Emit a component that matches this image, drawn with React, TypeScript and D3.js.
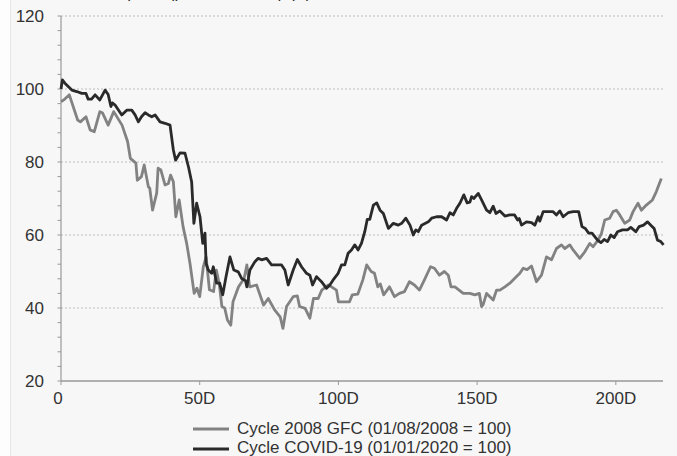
import React from "react";
import * as d3 from "d3";

const gfcDays = [0,1,3,6,7,9,10.5,12,14,15,17,19,22,24,25,27,27.5,29,30,31.5,32,33,34.5,35,36,37.5,38.7,39.5,40.5,41.4,42.6,44,45.3,46.5,48,49,50,51.3,52.3,53.5,55,56,57,58,59,60,61.2,62,64,66,67,68,70.5,73,74.7,77,79,80,81.3,83.7,85.2,86,88,89.7,91,92.7,94,96.3,97.5,99.3,100,101.7,104,105,107,108.8,110.2,111.8,113,114.2,115.1,116.3,118.4,120.2,122,123.8,125.6,127.4,129.2,131,133.2,134.6,136.4,138.2,139.6,140.6,142,145,147.4,149.2,150.8,151.6,152.2,153.4,155.8,157,158.2,160,161.8,164.2,165.4,166.6,168,169.6,171.4,173.2,175,176.8,178.6,180.4,181.6,183.4,184.6,187,188.8,190.6,191.8,193.6,194.8,196,197.8,199,200.2,201.4,203.2,205,206.2,208,209.2,211,213.2,214.6,216.4];
const gfcValues = [96.5,97,98.4,91.5,91,92.4,88.8,88.3,93.8,93.4,90.1,93.8,90.1,85.6,81,79.7,75,76,79.2,73.2,72.8,66.8,71.5,78.3,77.8,73.7,74.1,76.4,74.6,65,69.6,62.3,57.7,52.2,44,45.4,43.1,51.3,54,45,44.5,50.4,46.8,40.4,40,36.7,35.3,41.7,45.8,48.1,51.8,45.8,46.3,40.8,42.6,39.5,37.6,34.4,40.4,43.1,43.3,40.4,39.9,37.2,42.6,42.6,44.9,46.3,45.8,44.9,41.7,41.7,41.7,43.6,43.8,47.7,51.8,50,49.5,45.8,46.6,43.6,45.8,43.1,44,44.5,47.2,46.3,44.9,47.7,51.3,50.9,49,50,49,45.8,45.8,44,44,43.6,44,40.4,41,44,42.2,44.9,44.9,45.8,46.8,48.6,49.5,50.9,50.5,51.5,47.2,49,54,53.2,56.3,57.3,56.3,57.3,55.9,53.6,55.4,57.7,56.8,58.6,60.4,64.1,64.6,66.4,66.8,65.5,63.2,64.1,66.4,68.7,66.8,68.2,69.6,71.9,75.5];

const covidDays = [0,0.5,1.4,3.9,5.7,7.5,9,9.8,11,12.3,14,15.9,17,18,18.5,19.5,21.9,23.7,25.5,26.7,27.9,29,30.3,31.5,32.7,33.9,35.7,37.5,39.3,40.5,41.3,42.9,44.7,46,47.1,47.9,48.9,50.1,51.1,51.9,52.3,53.1,54.3,54.9,56.1,57.2,58.3,59.5,60.9,62.3,63.9,65.1,66.5,67,68.1,69.9,71.1,72.3,74.1,75.9,77.7,79.5,80.7,81.9,83.7,85.2,86.7,88.5,89.7,90.7,92.1,93.9,95.7,96.9,98.1,99.9,101.1,102.3,103.5,104.7,105.9,107.1,108.3,109.5,110.4,111.3,112.6,113.8,115,116.2,118,119.8,121.6,122.8,124.3,125.8,127,127.9,128.8,130,132.4,133.6,135.4,137.2,139,140.2,141.4,142.6,143.8,145.2,146.4,147.4,148,148.8,150.4,151.6,153.4,154.6,155.8,156.8,158.2,160,161.8,163.5,164.6,165.2,166,167.8,169.6,170.8,172,172.6,173.8,176.2,177.4,178.6,179.8,181,182.8,184.6,186.6,187.8,189,190.2,191.4,193.4,194.6,195.8,197,198.2,199.4,200.6,202.4,204.2,205.4,207.2,208.4,210,211.4,212.6,213.8,215,216.2,217.2];
const covidValues = [100,102.5,101.6,99.7,99.3,98.8,98.8,97.2,97.2,98.4,97,99.7,98.5,95.2,96.2,95.6,92.9,94.2,94.2,92.9,91,92.4,93.5,92.9,92.4,92.9,91,90.6,90.1,83.3,80.5,82.5,82.4,78.5,74.5,63.2,68.7,65,57.7,60.5,52.2,50.4,49.5,51.3,46.8,46.8,43.6,48.6,54,50.4,49.9,48.1,47.5,45.8,50.4,52.7,53.6,53.2,53.6,51.8,51.8,51.8,50.4,46.3,50.4,53.3,51.3,49.5,49,46.3,48.6,47.2,45.4,46.3,47.7,49.5,51.8,51.8,55,55.9,57.3,55.9,57.7,60.9,64.3,64.3,68.2,68.8,66.8,65.9,61.8,63.2,62.7,63.2,64.6,62.7,60,61.4,60.9,62.7,63.6,64.6,65,65,64.1,66.1,65.5,67.3,68.7,71,68.8,69,70.5,70,71.4,69.6,66.8,66.1,67.9,65.9,66.6,65.2,65.5,65.5,64.1,64.5,62.7,63.6,63.4,62.7,65,63.8,66.4,66.4,66.4,65.5,66.6,65,66.1,66.4,66.4,62.3,61.8,60.5,60.5,58.6,57.9,58.8,58.2,60,59.3,60.9,61.4,61.4,62.1,60.9,62.3,62.7,63.6,62.7,61.8,58.6,58.2,57.3];

const yTicks = [20, 40, 60, 80, 100, 120];
const xTicks = [0, 50, 100, 150, 200];
const xTickLabels = ["0", "50D", "100D", "150D", "200D"];
const seriesNames = ["Cycle 2008 GFC (01/08/2008 = 100)", "Cycle COVID-19 (01/01/2020 = 100)"];
const seriesColors = ["#828282", "#2a2a2a"];

const W = 677, H = 456;
const FONT = "'Liberation Sans', Arial, sans-serif";

export default function App() {
  const x = d3.scaleLinear().domain([0, 217]).range([61, 663]);
  const y = d3.scaleLinear().domain([20, 120]).range([381, 16]);
  const minor = d3.range(20, 121, 4);

  const mk = (days: number[], vals: number[]) =>
    d3.line<number>().x((_, i) => x(days[i])).y((v) => y(v))(vals) || "";

  const series = [
    { d: mk(gfcDays, gfcValues), color: seriesColors[0] },
    { d: mk(covidDays, covidValues), color: seriesColors[1] },
  ];

  return (
    <div style={{ position: "fixed", left: 0, top: 0 }}>
      <svg width={W} height={H} style={{ display: "block", fontFamily: FONT }}>
        <rect x={0} y={0} width={W} height={H} fill="#fdfdfd" />
        <rect x={10} y={0} width={W - 10} height={H} fill="#f7f7f7" />
        <line x1={10.5} x2={10.5} y1={0} y2={H} stroke="#e6e6e6" />
        <text x={62} y={-2} fontSize={17} fill="#333">Indexed price (pts, rebased, p.p.)</text>

        {yTicks.filter((t) => t > 20).map((t) => (
          <line key={"g" + t} x1={61} x2={663} y1={y(t)} y2={y(t)} stroke="#bdbdbd" strokeDasharray="2,2" />
        ))}

        {minor.map((t) => (
          <line key={"m" + t} x1={57.5} x2={61} y1={y(t)} y2={y(t)} stroke="#999" />
        ))}
        <line x1={61} x2={61} y1={y(120)} y2={y(20)} stroke="#999" strokeWidth={1.2} />
        <line x1={61} x2={663} y1={y(20)} y2={y(20)} stroke="#999" strokeWidth={1.5} />
        {xTicks.map((t) => (
          <line key={"xt" + t} x1={x(t)} x2={x(t)} y1={y(20)} y2={y(20) + 4} stroke="#999" />
        ))}

        {yTicks.map((t) => (
          <text key={"yl" + t} x={44} y={y(t)} dy="0.35em" textAnchor="end" fontSize={17} fill="#333">{t}</text>
        ))}
        {xTicks.map((t, i) => (
          <text key={"xl" + t} x={i === 0 ? x(t) - 3 : x(t)} y={404} textAnchor="middle" fontSize={17} fill="#333">{xTickLabels[i]}</text>
        ))}

        {series.map((s, i) => (
          <path key={"s" + i} d={s.d} fill="none" stroke={s.color} strokeWidth={2.8} strokeLinejoin="round" />
        ))}

        {seriesNames.map((n, i) => (
          <g key={"lg" + i}>
            <line x1={193} x2={229} y1={429 + i * 20} y2={429 + i * 20} stroke={seriesColors[i]} strokeWidth={3} />
            <text x={237} y={433.5 + i * 19.5} fontSize={17} fill="#333">{n}</text>
          </g>
        ))}
      </svg>
    </div>
  );
}
